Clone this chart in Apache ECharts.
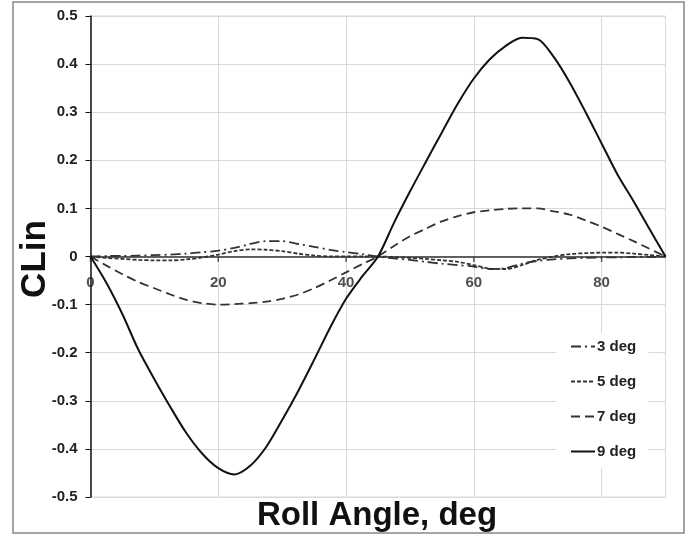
<!DOCTYPE html>
<html>
<head>
<meta charset="utf-8">
<script src="https://cdn.jsdelivr.net/npm/echarts@6/dist/echarts.min.js"></script>
<style>
html,body{margin:0;padding:0;background:#fff;}
#chart{width:690px;height:535px;}
</style>
</head>
<body>
<div id="chart"></div>
<script>
var rollAngle = [0,2.5,5,7.5,10,12.5,15,17.5,20,22.5,25,27.5,30,32.5,35,37.5,40,42.5,45,47.5,50,52.5,55,57.5,60,62.5,65,67.5,70,72.5,75,77.5,80,82.5,85,87.5,90];
var seriesNames = ['3 deg','5 deg','7 deg','9 deg'];
var cl3 = [0,0.001,0.001,0.002,0.003,0.004,0.006,0.009,0.012,0.018,0.026,0.032,0.032,0.026,0.020,0.014,0.009,0.005,0,-0.004,-0.007,-0.011,-0.015,-0.018,-0.021,-0.026,-0.024,-0.015,-0.009,-0.006,-0.004,-0.003,-0.002,-0.002,-0.001,-0.001,0];
var cl5 = [0,-0.003,-0.005,-0.007,-0.008,-0.008,-0.006,-0.002,0.004,0.011,0.015,0.014,0.011,0.006,0.002,0,0,0,0,-0.001,-0.003,-0.005,-0.008,-0.011,-0.018,-0.025,-0.026,-0.018,-0.007,0,0.005,0.007,0.008,0.008,0.006,0.003,0];
var cl7 = [0,-0.019,-0.037,-0.053,-0.066,-0.079,-0.090,-0.097,-0.100,-0.099,-0.097,-0.094,-0.088,-0.079,-0.066,-0.050,-0.033,-0.016,0,0.022,0.042,0.058,0.073,0.084,0.092,0.096,0.099,0.100,0.100,0.094,0.087,0.075,0.062,0.047,0.032,0.016,0];
var cl9 = [0,-0.055,-0.120,-0.194,-0.255,-0.313,-0.367,-0.410,-0.440,-0.453,-0.435,-0.396,-0.340,-0.280,-0.215,-0.148,-0.088,-0.042,0,0.070,0.135,0.197,0.258,0.318,0.370,0.410,0.438,0.455,0.452,0.415,0.362,0.300,0.235,0.170,0.115,0.057,0];
var xTicks = [0,20,40,60,80];
var yTicks = [-0.5,-0.4,-0.3,-0.2,-0.1,0,0.1,0.2,0.3,0.4,0.5];

function pairs(ys){ return rollAngle.map(function(x,i){ return [x, ys[i]]; }); }

var chart = echarts.init(document.getElementById('chart'));
var FONT = 'Liberation Sans, Arial, sans-serif';
var styles = [
  {type:[10,4,2,4], color:'#333', width:1.8},
  {type:[4,2], color:'#333', width:1.8},
  {type:[9,5], color:'#333', width:1.8},
  {type:'solid', color:'#111', width:2}
];
var data = [cl3, cl5, cl7, cl9];
var series = seriesNames.map(function(n, i){
  return {
    name: n, type: 'line', data: pairs(data[i]), smooth: 0.3,
    symbol: 'none', showSymbol: false, z: 2 + i,
    lineStyle: {type: styles[i].type, color: styles[i].color, width: styles[i].width},
    itemStyle: {color: styles[i].color}
  };
});
// x tick marks and labels along the zero line
series.push({
  type: 'scatter', silent: true, z: 1,
  data: xTicks.map(function(v){ return [v, 0]; }),
  symbol: 'rect', symbolSize: [1.5, 5], symbolOffset: [0, 3],
  itemStyle: {color: '#333'},
  label: {show: true, position: 'bottom', distance: 13, color: '#222', fontWeight: 'bold', fontSize: 15, fontFamily: FONT,
    formatter: function(p){ return String(p.value[0]); }}
});

chart.setOption({
  animation: false,
  backgroundColor: '#fff',
  grid: {left: 90.5, top: 16, right: 24.5, bottom: 38, show: true, borderColor: '#d9d9d9', borderWidth: 1, backgroundColor: 'transparent', outerBoundsMode: 'none'},
  xAxis: {
    type: 'value', min: 0, max: 90, interval: 20,
    axisLine: {onZero: true, lineStyle: {color: '#333', width: 1.5}},
    axisTick: {show: false},
    axisLabel: {show: false},
    splitLine: {show: true, lineStyle: {color: '#d9d9d9', width: 1}}
  },
  yAxis: {
    type: 'value', min: yTicks[0], max: yTicks[yTicks.length-1], interval: 0.1,
    axisLine: {show: true, onZero: false, lineStyle: {color: '#111', width: 1.5}},
    axisTick: {show: true, length: 5, lineStyle: {color: '#111'}},
    axisLabel: {margin: 13, color: '#222', fontWeight: 'bold', fontSize: 15, fontFamily: FONT,
      formatter: function(v){ var r = Math.round(v*10)/10; return r === 0 ? '0' : r.toFixed(1); }},
    splitLine: {show: true, lineStyle: {color: '#d9d9d9', width: 1}}
  },
  legend: {
    orient: 'vertical', left: 556, top: 333,
    padding: [6, 12, 9, 14], itemGap: 20, itemWidth: 24, itemHeight: 14,
    backgroundColor: '#fff',
    data: seriesNames,
    itemStyle: {opacity: 0},
    textStyle: {color: '#222', fontWeight: 'bold', fontSize: 15, fontFamily: FONT, padding: [0, 0, 0, -3]}
  },
  graphic: [
    {type: 'rect', shape: {x: 13, y: 2, width: 671, height: 531}, style: {fill: 'none', stroke: '#888', lineWidth: 1.5}, silent: true, z: -10},
    {type: 'text', x: 377, y: 516, style: {text: 'Roll Angle, deg', font: 'bold 33px ' + FONT, fill: '#111', textAlign: 'center', textVerticalAlign: 'middle'}},
    {type: 'text', x: 35, y: 259, rotation: Math.PI/2, style: {text: 'CLin', font: 'bold 35px ' + FONT, fill: '#111', textAlign: 'center', textVerticalAlign: 'middle'}}
  ],
  series: series
});
</script>
</body>
</html>
